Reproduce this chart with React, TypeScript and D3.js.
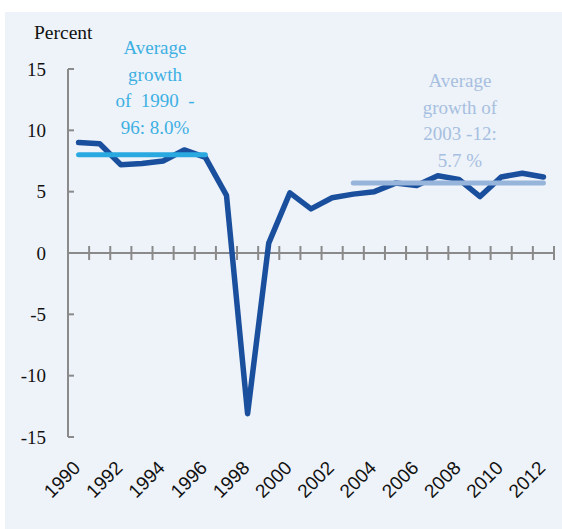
import React from 'react';
import * as d3 from 'd3';

// annual real GDP growth, percent
const years = [1990, 1991, 1992, 1993, 1994, 1995, 1996, 1997, 1998, 1999, 2000, 2001,
  2002, 2003, 2004, 2005, 2006, 2007, 2008, 2009, 2010, 2011, 2012];
const growth = [9.0, 8.9, 7.2, 7.3, 7.5, 8.4, 7.8, 4.7, -13.1, 0.8, 4.9, 3.6,
  4.5, 4.8, 5.0, 5.7, 5.5, 6.3, 6.0, 4.6, 6.2, 6.5, 6.2];

const avgEarly = { from: 1990, to: 1996, value: 8.0 };
const avgLate = { from: 2003, to: 2012, value: 5.7 };

const yTicks = [15, 10, 5, 0, -5, -10, -15];
const xLabels = years.filter(y => y % 2 === 0);

const noteEarly = ['Average', 'growth', 'of  1990  -', '96: 8.0%'];
const noteLate = ['Average', 'growth of', '2003 -12:', '5.7 %'];

const W = 562;
const H = 529;

export default function App() {
  var x = d3.scaleBand<number>()
    .domain(years)
    .range([68, 554]);
  var y = d3.scaleLinear()
    .domain([-15, 15])
    .range([437, 69]);
  var cx = (yr: number) => (x(yr) || 0) + x.bandwidth() / 2;

  var line = d3.line<number>()
    .x((d, i) => cx(years[i]))
    .y(d => y(d));

  var serif = '"Liberation Serif", "DejaVu Serif", serif';
  var sans = '"Liberation Sans", Arial, sans-serif';
  var axisColor = '#8a8a8a';

  // tick marks sit on the band edges along the zero line
  var xTickPos = years.map(yr => (x(yr) || 0) + x.bandwidth());

  return (
    <svg width={W} height={H} style={{ position: 'absolute', left: 0, top: 0 }}>
      <rect x={0} y={0} width={W} height={H} fill="#ffffff" />
      <rect x={5} y={12} width={W - 5} height={H - 12} fill="#eef3f9" />

      <text x={34} y={39} fontFamily={serif} fontSize={19.5} fill="#111">Percent</text>

      {/* y axis */}
      <line x1={68} x2={68} y1={y(15)} y2={y(-15)} stroke={axisColor} strokeWidth={2} />
      {yTicks.map(t => (
        <g key={t}>
          <line x1={68} x2={74} y1={y(t)} y2={y(t)} stroke={axisColor} strokeWidth={2} />
          <text x={46} y={y(t)} dy="0.35em" textAnchor="end" fontFamily={serif} fontSize={19} fill="#111">
            {t}
          </text>
        </g>
      ))}

      {/* x axis on the zero line */}
      <line x1={68} x2={554} y1={y(0)} y2={y(0)} stroke={axisColor} strokeWidth={2} />
      {xTickPos.map((p, i) => (
        <line key={i} x1={p} x2={p} y1={y(0) - 7} y2={y(0) + 7} stroke={axisColor} strokeWidth={2} />
      ))}

      {xLabels.map(yr => (
        <text key={yr} transform={`translate(${cx(yr) + 3},${469}) rotate(-45)`}
          textAnchor="end" fontFamily={sans} fontSize={19} fill="#111">
          {yr}
        </text>
      ))}

      {/* growth series */}
      <path d={line(growth) || ''} fill="none" stroke="#1a4f9e" strokeWidth={5.5}
        strokeLinejoin="round" strokeLinecap="round" />

      {/* period averages */}
      <line x1={cx(avgEarly.from)} x2={cx(avgEarly.to)} y1={y(avgEarly.value)} y2={y(avgEarly.value)}
        stroke="#2aa9e1" strokeWidth={5} strokeLinecap="round" />
      <line x1={cx(avgLate.from)} x2={cx(avgLate.to)} y1={y(avgLate.value)} y2={y(avgLate.value)}
        stroke="#97b4da" strokeWidth={5} strokeLinecap="round" />

      {noteEarly.map((s, i) => (
        <text key={i} x={155} y={54 + i * 26.5} textAnchor="middle" fontFamily={serif}
          fontSize={19} fill="#3db0e3" style={{ whiteSpace: 'pre' }}>
          {s}
        </text>
      ))}
      {noteLate.map((s, i) => (
        <text key={i} x={460} y={87 + i * 26.7} textAnchor="middle" fontFamily={serif}
          fontSize={19} fill="#a6bfe0" style={{ whiteSpace: 'pre' }}>
          {s}
        </text>
      ))}
    </svg>
  );
}
